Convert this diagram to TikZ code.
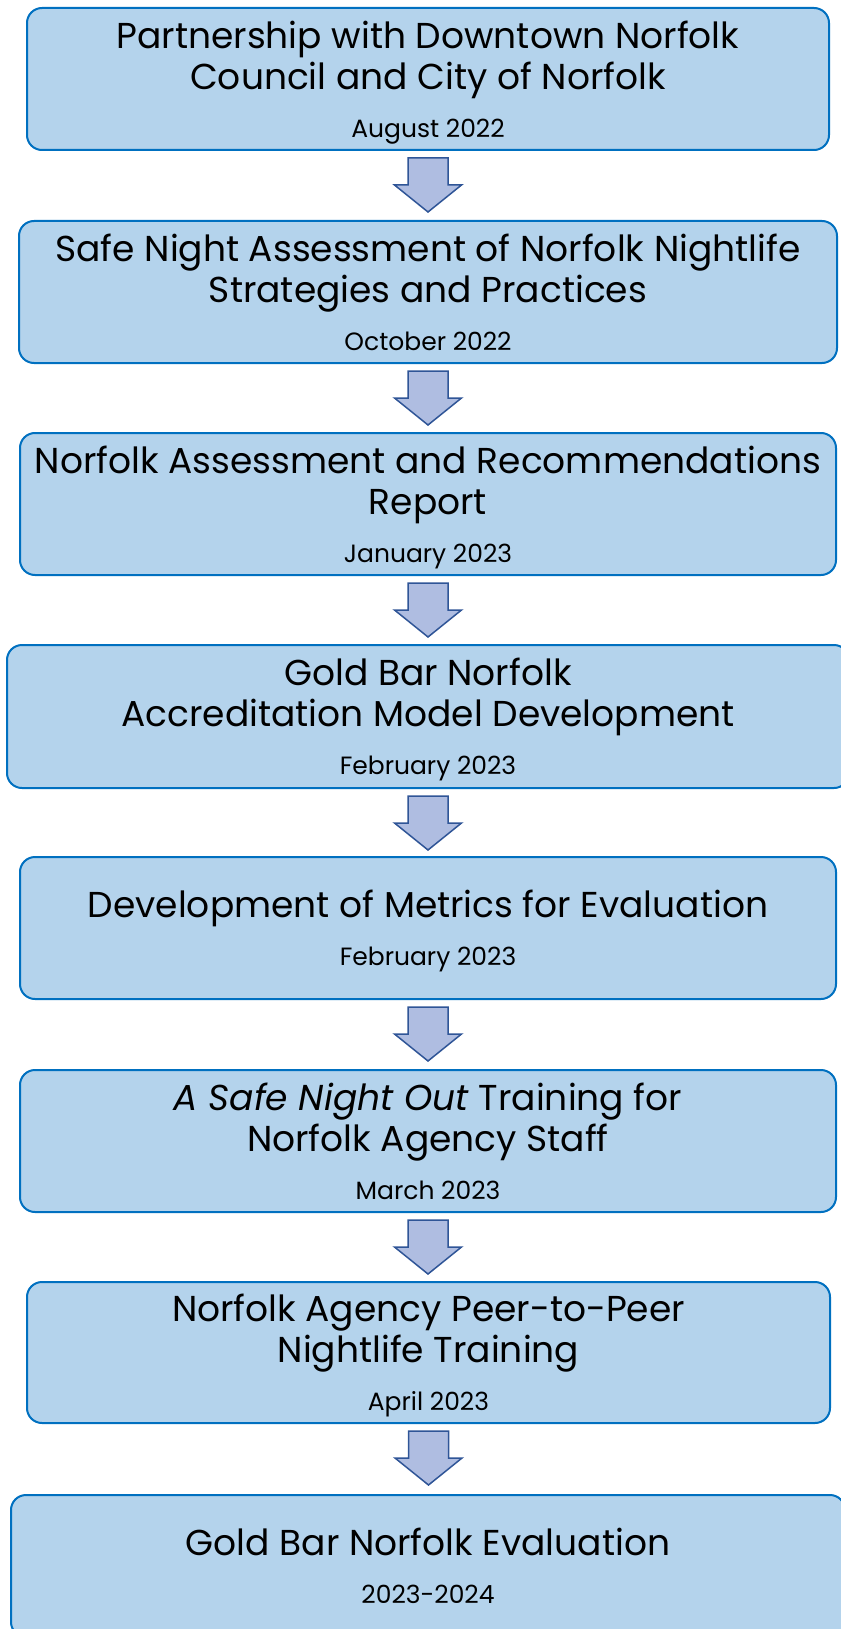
\documentclass[tikz,border=0pt]{standalone}
\usepackage{fontspec}
\setmainfont{Poppins}
\usepackage{tikz}
\usetikzlibrary{calc}
\definecolor{boxfill}{HTML}{B4D3EC}
\definecolor{boxline}{HTML}{0070C0}
\definecolor{arrfill}{HTML}{AFBDE1}
\definecolor{arrline}{HTML}{2F5597}
\newcommand{\when}[1]{{\fontsize{25}{28}\selectfont #1}}

\begin{document}
\begin{tikzpicture}[x=1pt, y=1pt,
  stage/.style={draw=boxline, line width=2pt, fill=boxfill, rounded corners=15pt,
    minimum height=142pt, inner sep=0pt, outer sep=0pt, align=center,
    font=\fontsize{36}{41}\selectfont, text depth=0pt},
  downarrow/.style={draw=arrline, line width=1.5pt, fill=arrfill}]
\useasboundingbox (0,0) rectangle (840,-1629);

\node[stage, minimum width=802pt] (b1) at (428,-79)
  {Partnership with Downtown Norfolk\\Council and City of Norfolk\\[7pt]\when{August 2022}}; %partnership
\node[stage, minimum width=818pt] (b2) at (428,-292)
  {Safe Night Assessment of Norfolk Nightlife\\Strategies and Practices\\[7pt]\when{October 2022}}; %assessment
\node[stage, minimum width=816pt] (b3) at (428,-504)
  {Norfolk Assessment and Recommendations\\Report\\[7pt]\when{January 2023}}; %report
\node[stage, minimum width=842pt, minimum height=143pt] (b4) at (428,-716.5)
  {Gold Bar Norfolk\\Accreditation Model Development\\[7pt]\when{February 2023}}; %model
\node[stage, minimum width=816pt] (b5) at (428,-928)
  {Development of Metrics for Evaluation\\[7pt]\when{February 2023}}; %metrics
\node[stage, minimum width=816pt] (b6) at (428,-1141)
  {\textit{A Safe Night Out} Training for\\Norfolk Agency Staff\\[7pt]\when{March 2023}}; %training
\node[stage, minimum width=803pt, minimum height=141pt] (b7) at (428.5,-1352.5)
  {Norfolk Agency Peer-to-Peer\\Nightlife Training\\[7pt]\when{April 2023}}; %peer
\node[stage, minimum width=834pt] (b8) at (428,-1566)
  {Gold Bar Norfolk Evaluation\\[7pt]\when{2023-2024}}; %evaluation

\draw[downarrow] ($(b1.south)+(-20,-8)$) -- ++(40,0) -- ++(0,-27) -- ++(13.5,0) -- ($(b1.south)+(0,-62)$) -- ($(b1.south)+(-33.5,-35)$) -- ++(13.5,0) -- cycle; %b1 to b2
\draw[downarrow] ($(b2.south)+(-20,-8)$) -- ++(40,0) -- ++(0,-27) -- ++(13.5,0) -- ($(b2.south)+(0,-62)$) -- ($(b2.south)+(-33.5,-35)$) -- ++(13.5,0) -- cycle; %b2 to b3
\draw[downarrow] ($(b3.south)+(-20,-8)$) -- ++(40,0) -- ++(0,-27) -- ++(13.5,0) -- ($(b3.south)+(0,-62)$) -- ($(b3.south)+(-33.5,-35)$) -- ++(13.5,0) -- cycle; %b3 to b4
\draw[downarrow] ($(b4.south)+(-20,-8)$) -- ++(40,0) -- ++(0,-27) -- ++(13.5,0) -- ($(b4.south)+(0,-62)$) -- ($(b4.south)+(-33.5,-35)$) -- ++(13.5,0) -- cycle; %b4 to b5
\draw[downarrow] ($(b5.south)+(-20,-8)$) -- ++(40,0) -- ++(0,-27) -- ++(13.5,0) -- ($(b5.south)+(0,-62)$) -- ($(b5.south)+(-33.5,-35)$) -- ++(13.5,0) -- cycle; %b5 to b6
\draw[downarrow] ($(b6.south)+(-20,-8)$) -- ++(40,0) -- ++(0,-27) -- ++(13.5,0) -- ($(b6.south)+(0,-62)$) -- ($(b6.south)+(-33.5,-35)$) -- ++(13.5,0) -- cycle; %b6 to b7
\draw[downarrow] ($(b7.south)+(-20,-8)$) -- ++(40,0) -- ++(0,-27) -- ++(13.5,0) -- ($(b7.south)+(0,-62)$) -- ($(b7.south)+(-33.5,-35)$) -- ++(13.5,0) -- cycle; %b7 to b8
\end{tikzpicture}
\end{document}
